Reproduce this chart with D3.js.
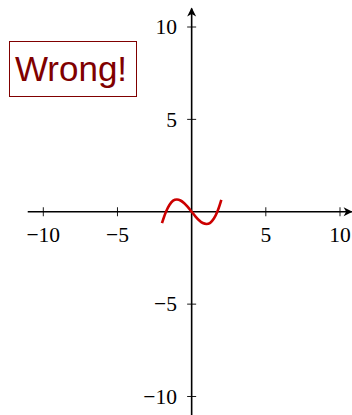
<!DOCTYPE html>
<html><head><meta charset="utf-8">
<script src="https://cdn.jsdelivr.net/npm/d3@7"></script>
<style>html,body{margin:0;padding:0;background:#fff;}</style>
</head><body>
<script>
// data
const curveX = [-2, -1.75, -1.5, -1.25, -1, -0.75, -0.5, -0.25, 0, 0.25, 0.5, 0.75, 1, 1.25, 1.5, 1.75, 2];
const curveY = [-0.62, -0.04, 0.37, 0.6, 0.66, 0.61, 0.46, 0.245, 0, -0.245, -0.46, -0.61, -0.66, -0.6, -0.37, 0.04, 0.64];
const xTicks = [-10, -5, 5, 10];
const yTicks = [-10, -5, 5, 10];
const annotation = "Wrong!";

const W = 352, H = 415;
const svg = d3.select("body").append("svg").attr("width", W).attr("height", H);
const x = d3.scaleLinear().domain([-10, 10]).range([43.3, 340]);
const y = d3.scaleLinear().domain([-10, 10]).range([396.5, 27]);
const fmt = v => (v < 0 ? "\u2212" + Math.abs(v) : String(v));

// axis lines
const x0 = x(0), y0 = y(0);
svg.append("line").attr("x1", x(-11.05)).attr("x2", x(10.8)).attr("y1", y0).attr("y2", y0)
  .attr("stroke", "#000").attr("stroke-width", 1.6);
svg.append("line").attr("x1", x0).attr("x2", x0).attr("y1", y(-11.2)).attr("y2", y(11.0))
  .attr("stroke", "#000").attr("stroke-width", 1.6);
// arrow heads
const xt = x(10.85), yt = y(11.05);
svg.append("path").attr("d", `M${xt},${y0} L${xt-9},${y0-4.5} L${xt-6.5},${y0} L${xt-9},${y0+4.5} Z`).attr("fill", "#000");
svg.append("path").attr("d", `M${x0},${yt} L${x0-4.5},${yt+9} L${x0},${yt+6.5} L${x0+4.5},${yt+9} Z`).attr("fill", "#000");

// ticks
const gx = svg.append("g");
xTicks.forEach(t => {
  gx.append("line").attr("x1", x(t)).attr("x2", x(t)).attr("y1", y0 - 4.5).attr("y2", y0 + 4.5)
    .attr("stroke", "#000").attr("stroke-width", 0.9);
  gx.append("text").attr("x", x(t)).attr("y", 241.7).attr("text-anchor", "middle")
    .attr("font-family", "Liberation Serif, serif").attr("font-size", 21.5).text(fmt(t));
});
const gy = svg.append("g");
yTicks.forEach(t => {
  gy.append("line").attr("x1", x0 - 4.5).attr("x2", x0 + 4.5).attr("y1", y(t)).attr("y2", y(t))
    .attr("stroke", "#000").attr("stroke-width", 0.9);
  gy.append("text").attr("x", 177).attr("y", y(t) + 7.3).attr("text-anchor", "end")
    .attr("font-family", "Liberation Serif, serif").attr("font-size", 21.5).text(fmt(t));
});

// curve
const pts = curveX.map((v, i) => [v, curveY[i]]);
svg.append("path").datum(pts)
  .attr("d", d3.line().x(d => x(d[0])).y(d => y(d[1])).curve(d3.curveCatmullRom))
  .attr("fill", "none").attr("stroke", "#cc0000").attr("stroke-width", 2.6);

// annotation box
svg.append("rect").attr("x", 9.5).attr("y", 41.5).attr("width", 127).attr("height", 55)
  .attr("fill", "#fff").attr("stroke", "#800000").attr("stroke-width", 1);
svg.append("text").attr("x", 71).attr("y", 80.5).attr("text-anchor", "middle")
  .attr("font-family", "Liberation Sans, Arial, sans-serif").attr("font-size", 35)
  .attr("fill", "#800000").text(annotation);
</script>
</body></html>
